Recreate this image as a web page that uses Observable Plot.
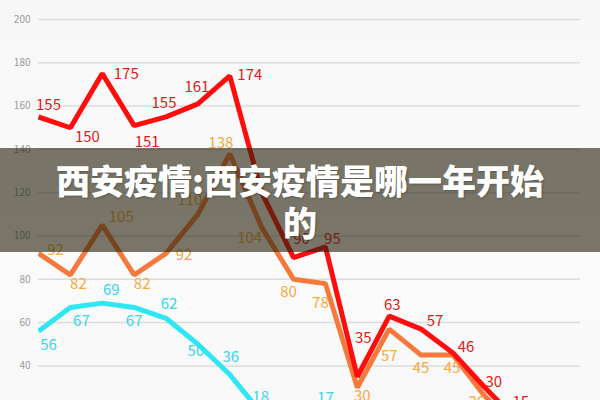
<!DOCTYPE html>
<html>
<head>
<meta charset="utf-8">
<script src="https://cdn.jsdelivr.net/npm/d3@7"></script>
<script src="https://cdn.jsdelivr.net/npm/@observablehq/plot@0.6"></script>
<style>
  html, body { margin: 0; padding: 0; background: #f9f9f9; }
  #wrap { position: relative; width: 600px; height: 400px; overflow: hidden; background: linear-gradient(180deg, #f7f7f7 0%, #fbfbfb 60%, #f8f8f8 100%); }
  #chart svg { display: block; background: transparent; }
  #banner { position: absolute; left: 0; top: 148px; width: 600px; height: 104px; background: rgba(40, 36, 15, 0.62); }
  #title { position: absolute; left: 50px; width: 500px; top: 159px; text-align: center; color: #fff;
           font-family: "Noto Sans CJK SC", sans-serif; font-weight: 900; font-size: 34px; line-height: 42px;
           text-shadow: 1px 1px 2px rgba(0,0,0,0.25); }
</style>
</head>
<body>
<div id="wrap">
  <div id="chart"></div>
  <div id="banner"></div>
  <div id="title">西安疫情:西安疫情是哪一年开始的</div>
</div>
<script>
// ---- data ----
const red    = [155, 150, 175, 151, 155, 161, 174, 120, 90, 95, 35, 63, 57, 46, 30, 15];
const orange = [92, 82, 105, 82, 92, 110, 138, 104, 80, 78, 30, 57, 45, 45, 26, 12];
const cyan   = [56, 67, 69, 67, 62, 50, 36, 18, 14, 17];
const yTicks = [40, 60, 80, 100, 120, 140, 160, 180, 200];

// ---- label placement (pixel offsets from each point; null = no visible label) ----
const redLabelOffsets = [[10,-12],[17,9],[24,1],[13,17],[-2,-14],[-1,-17],[20,-1],null,[8,-18],[7,-8],[6,-39],[3,-11],[14,-8],[13,-6],[9,-5],[4,-18]];
const orangeLabelOffsets = [[17,-3],[8,9],[19,-8],[8,9],[18,2],[-8,-14],[-9,-11],[-12,11],[-5,13],[-5,20],[5,9],[0,27],[0,13],[-1,13],[-8,6],null];
const cyanLabelOffsets = [[10,14],[11,14],[9,-13],[0,14],[3,-14],[-2,7],[1,-17],[-1,-16],null,[0,-18]];

const series = [
  {values: cyan,   stroke: "#2fe6f2", labelFill: "#35d6ea", offsets: cyanLabelOffsets,   join: "round"},
  {values: orange, stroke: "#f5793a", labelFill: "#f6a83c", offsets: orangeLabelOffsets, join: "miter"},
  {values: red,    stroke: "#ff0c0c", labelFill: "#e01a1a", offsets: redLabelOffsets,    join: "miter"}
];

const lineMarks = series.map(s =>
  Plot.line(s.values.map((v, i) => ({i, v})), {
    x: "i", y: "v", stroke: s.stroke, strokeWidth: 5,
    strokeLinejoin: s.join, strokeLinecap: "butt", clip: true
  })
);

const labelMarks = series.flatMap(s =>
  s.values.map((v, i) => {
    const o = s.offsets[i];
    if (!o) return null;
    return Plot.text([{i, v}], {
      x: "i", y: "v", text: d => String(d.v), dx: o[0], dy: o[1],
      fill: s.labelFill, fontSize: 15, textAnchor: "middle"
    });
  }).filter(Boolean)
);

const chart = Plot.plot({
  width: 600,
  height: 400,
  marginLeft: 38,
  marginRight: 20,
  marginTop: 19,
  marginBottom: 0,
  style: {background: "transparent", fontFamily: "'Noto Sans CJK SC', 'Noto Sans', sans-serif", color: "#999", overflow: "hidden"},
  x: {domain: [0, 17], range: [38, 580], axis: null},
  y: {domain: [0, 200], range: [452, 19], ticks: yTicks, tickSize: 0, tickPadding: 8, label: null, tickFormat: d => String(d)},
  marks: [
    Plot.ruleY(yTicks, {stroke: "#dcdcdc", strokeWidth: 1.5}),
    ...lineMarks,
    ...labelMarks
  ]
});
chart.querySelectorAll("g[aria-label='y-axis tick label'] text, g[aria-label='y-axis'] text").forEach(t => { t.style.fontSize = "10px"; });
document.getElementById("chart").appendChild(chart);
</script>
</body>
</html>
